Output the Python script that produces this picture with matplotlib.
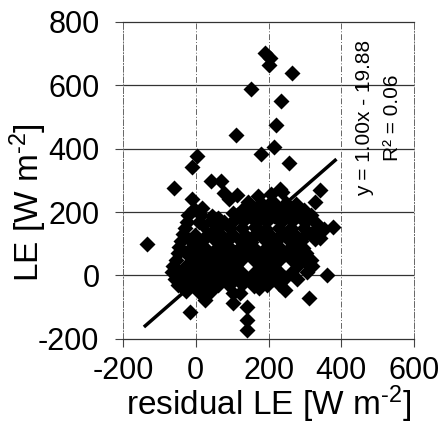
import matplotlib
matplotlib.use('Agg')
from matplotlib import pyplot as plt

# residual LE (x) and measured LE (y), W m-2, read off the scanned figure
# scattered points outside the dense cloud
out_x = [-135, -60, -10, 4, -10, 41, 69, 78, 90, 113, 103, 111, 152, 190, 204, 200,
         264, 234, 221, 215, 179, 257, 232, 342, 328, 378, 342, 360, 278, 245, 310,
         -16, 25, 103, 140, 140, 140, 47, 62]
out_y = [100, 275, 242, 377, 343, 298, 298, 260, 242, 254, 196, 443, 588, 701, 686, 664,
         638, 551, 473, 406, 383, 354, 272, 270, 233, 152, 118, 2, 86, -45, -70,
         -114, -77, -87, -98, -140, -172, 137, 181]

# dense cloud, one line per row of points
cloud_x = [170, 206, 236,
           143, 179, 210, 247, 276,
           -6, 16, 131, 163, 199, 230, 268, 298,
           -21, 13, 44, 113, 149, 180, 216, 247, 284, 316,
           -25, 9, 42, 77, 96, 129, 166, 197, 233, 265, 301, 333,
           -31, 20, 58, 94, 126, 162, 194, 230, 262, 298, 330, 352,
           -36, -2, 33, 68, 100, 136, 168, 204, 236, 272, 304, 334,
           -40, -15, 18, 53, 85, 121, 153, 189, 221, 257, 289, 328,
           -45, -8, 24, 60, 92, 128, 160, 196, 228, 264, 296,
           -49, -25, 9, 41, 77, 109, 145, 177, 213, 245, 281, 303,
           -55, -9, 26, 58, 94, 126, 162, 194, 230, 262, 298, 317,
           -62, -25, 8, 43, 75, 111, 179, 211, 281, 320,
           -66, -42, -9, 26, 58, 94, 126, 162, 194, 230, 262, 305,
           -58, -26, 9, 41, 77, 109, 145, 177, 213, 245, 279,
           -50, -9, 25, 60, 92, 128, 160, 196, 230,
           -28, 8, 42, 103, 121, 175]
cloud_y = [250, 258, 262,
           232, 228, 236, 230, 226,
           208, 212, 210, 206, 213, 209, 211, 205,
           190, 192, 188, 191, 187, 193, 189, 192, 186, 190,
           170, 168, 172, 170, 166, 171, 169, 173, 167, 171, 168, 162,
           150, 160, 148, 151, 149, 153, 147, 151, 149, 150, 148, 147,
           130, 128, 132, 129, 131, 127, 133, 129, 131, 128, 130, 127,
           110, 112, 108, 111, 109, 113, 107, 111, 109, 112, 108, 115,
           90, 92, 88, 91, 89, 93, 87, 91, 89, 92, 88,
           70, 68, 72, 69, 71, 67, 73, 69, 71, 68, 72, 70,
           50, 52, 48, 51, 49, 53, 47, 51, 49, 52, 48, 50,
           30, 32, 28, 31, 29, 33, 28, 31, 32, 30,
           10, 12, 8, 11, 9, 13, 7, 11, 9, 12, 8, 10,
           -10, -8, -12, -9, -11, -7, -13, -9, -11, -8, -12,
           -30, -28, -32, -29, -31, -27, -33, -29, -28,
           -50, -52, -48, -56, -56, -40]

# regression line y = 1.00x - 19.88
fit_x = [-139, 383]
fit_slope = 1.00
fit_icpt = -19.88

plt.rcParams['font.family'] = ['Liberation Sans', 'DejaVu Sans']
plt.rcParams['mathtext.fontset'] = 'custom'
plt.rcParams['mathtext.rm'] = 'Liberation Sans'
plt.rcParams['mathtext.default'] = 'regular'
plt.rcParams['axes.unicode_minus'] = False

fig = plt.figure(figsize=(4.41, 4.43), dpi=100)
ax = fig.add_axes([0.279, 0.235, 0.66, 0.716])

for y in [0, 200, 400, 600]:
    ax.axhline(y, color='#333333', lw=0.9, zorder=1)
for x in [0, 200, 400]:
    ax.axvline(x, color='#666666', lw=0.7, ls=(0, (6, 2, 1, 2)), zorder=1)

ax.plot(cloud_x + out_x, cloud_y + out_y, 'D', color='black', ms=8.6, mec='none', zorder=3)
fit_y = [fit_slope * x + fit_icpt for x in fit_x]
ax.plot(fit_x, fit_y, color='black', lw=2.5, zorder=4)

ax.text(465, 497, 'y = 1.00x - 19.88', rotation=90, ha='center', va='center', fontsize=15)
ax.text(542, 497, 'R² = 0.06', rotation=90, ha='center', va='center', fontsize=15)

ax.set_xlim(-200, 600)
ax.set_ylim(-200, 800)
ax.set_xticks([-200, 0, 200, 400, 600])
ax.set_yticks([-200, 0, 200, 400, 600, 800])
ax.tick_params(direction='out', length=6, width=0.8, color='#444444', labelsize=22)
ax.tick_params(axis='y', pad=11)
ax.tick_params(axis='x', pad=6)
for side in ['left', 'right']:
    ax.spines[side].set_linestyle((0, (6, 2, 1, 2)))
    ax.spines[side].set_color('#666666')
    ax.spines[side].set_linewidth(0.7)
for side in ['top', 'bottom']:
    ax.spines[side].set_color('#333333')
    ax.spines[side].set_linewidth(0.9)

ax.set_xlabel('residual LE [W m$^{‐2}$]', fontsize=24)
ax.set_ylabel('LE [W m$^{‐2}$]', fontsize=24)
ax.xaxis.set_label_coords(0.5, -0.14)
ax.yaxis.set_label_coords(-0.255, 0.43)

fig.savefig('out.png', dpi=100)
